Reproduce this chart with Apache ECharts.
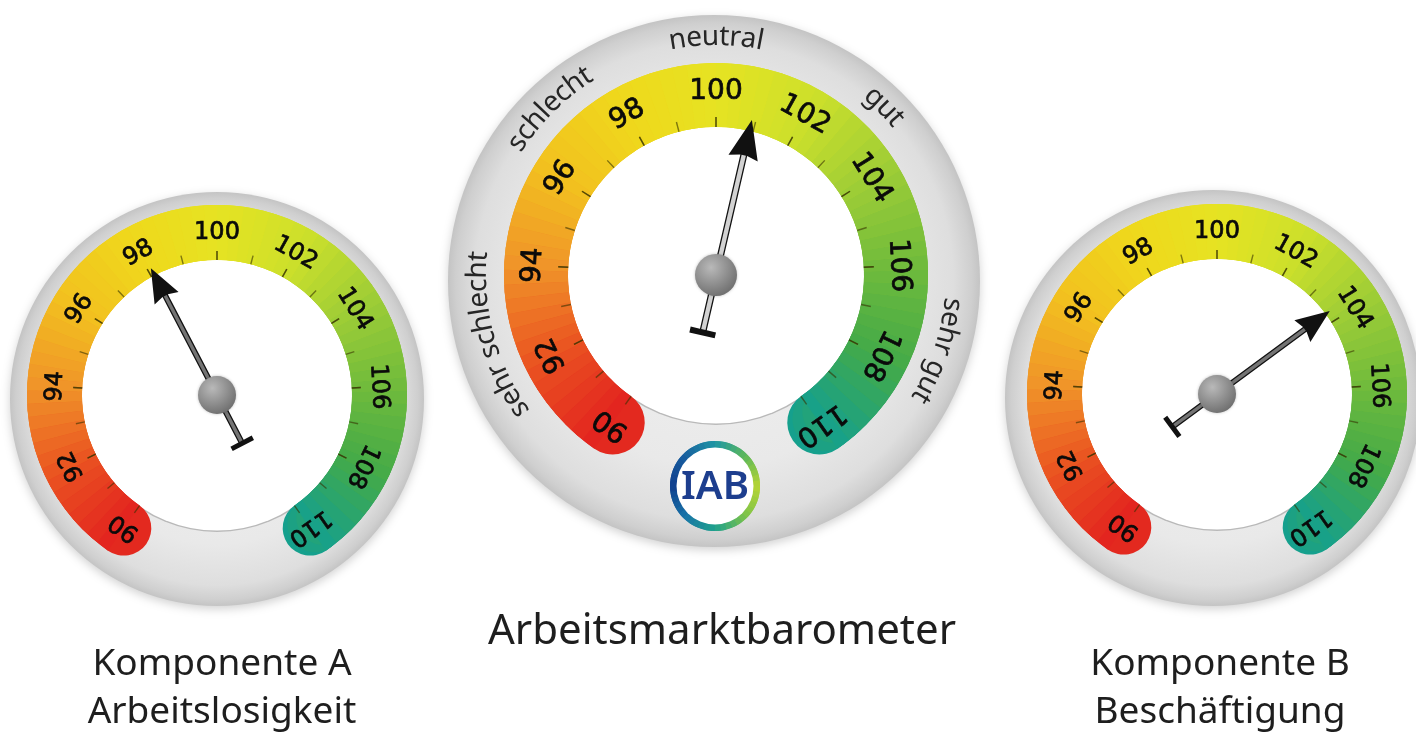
<!DOCTYPE html>
<html>
<head>
<meta charset="utf-8">
<title>Arbeitsmarktbarometer</title>
<script src="https://cdn.jsdelivr.net/npm/echarts@6/dist/echarts.min.js"></script>
<style>
  html, body { margin: 0; padding: 0; background: #ffffff; }
  #chart { width: 1416px; height: 735px; }
</style>
</head>
<body>
<div id="chart"></div>
<script>
// ---- values shown by the three barometers ----
const scaleMin = 90;
const scaleMax = 110;
const tickLabels = ['90', '92', '94', '96', '98', '100', '102', '104', '106', '108', '110'];
const gaugeValues = [98.1, 100.9, 103.7];            // Komponente A, Barometer, Komponente B
const captionLines = [
  ['Komponente A', 'Arbeitslosigkeit'],
  ['Arbeitsmarktbarometer'],
  ['Komponente B', 'Beschäftigung']
];
const ratingWords = ['sehr schlecht', 'schlecht', 'neutral', 'gut', 'sehr gut'];
const ratingAt = [92.75, 96.9, 100, 103.1, 107.5];   // scale position of each rating word
const logoText = 'IAB';

// ---- styling ----
const START_DEG = 235, END_DEG = -55;
const bandStops = [
  [90, '#e2221f'], [92, '#ea5321'], [94, '#f09429'], [96, '#f2c11f'], [98, '#efd81c'],
  [100, '#e6e322'], [102, '#cde02b'], [104, '#9ecd36'], [106, '#70bb3c'], [108, '#44aa48'], [110, '#15a08d']
];
const logoStops = [
  [0, '#1f96a4'], [0.125, '#5db85a'], [0.25, '#b6d434'], [0.375, '#7cc24a'], [0.5, '#1fa18d'],
  [0.625, '#1873a8'], [0.75, '#103f8d'], [0.875, '#185f9f'], [1, '#1f96a4']
];

const layouts = [
  { cx: 217, cy: 395, disc: [217, 399], discR: 207, bandR: 190, bandW: 55, tickLen: 9, labelR: 162, labelSize: 24,
    tip: 143, tail: 57, headLen: 31, headW: 27, shaftW: 6, barW: 24, barT: 5, hub: 38, shaftFill: '#747474' },
  { cx: 716, cy: 275, disc: [714, 281], discR: 266, bandR: 212, bandW: 64, tickLen: 10, labelR: 183, labelSize: 28,
    tip: 159, tail: 62, headLen: 36, headW: 30, shaftW: 7, barW: 26, barT: 6, hub: 42, shaftFill: '#d2d2d2' },
  { cx: 1217, cy: 394, disc: [1213, 398], discR: 208, bandR: 190, bandW: 55, tickLen: 9, labelR: 162, labelSize: 24,
    tip: 140, tail: 58, headLen: 31, headW: 27, shaftW: 6, barW: 24, barT: 5, hub: 38, shaftFill: '#747474' }
];
const captionPos = [
  [[222, 664], [222, 712]],
  [[722, 632]],
  [[1220, 664], [1220, 712]]
];
const logo = { center: [715, 486], r: 45, w: 7, textY: 488, font: '600 40px "Noto Sans"', color: '#1d3e8e' };
const ringWordFont = '28px "Noto Sans"';
const ringWordR = 238;
const captionFonts = ['37px "Noto Sans"', '42px "Noto Sans"', '37px "Noto Sans"'];

// ---- helpers ----
function hexRgb(h) {
  const n = parseInt(h.slice(1), 16);
  return [(n >> 16) & 255, (n >> 8) & 255, n & 255];
}
function colorAt(stops, t) {
  for (let i = 1; i < stops.length; i++) {
    if (t <= stops[i][0]) {
      const [t0, c0] = stops[i - 1], [t1, c1] = stops[i];
      const k = (t - t0) / (t1 - t0);
      const a = hexRgb(c0), b = hexRgb(c1);
      return 'rgb(' + a.map((v, j) => Math.round(v + (b[j] - v) * k)).join(',') + ')';
    }
  }
  return stops[stops.length - 1][1];
}
// many thin colour slices give a smooth sweep along the arc;
// "shift" moves the slice borders by half a slice for the underlay layer
function sweep(stops, n, shift) {
  const lo = stops[0][0], hi = stops[stops.length - 1][0];
  const list = [];
  const off = shift ? 0.5 : 0;
  for (let i = 1; i <= n; i++) {
    const f = Math.min(1, (i + off) / n);
    const mid = Math.min(1, (i - 0.5 + off) / n);
    list.push([f, colorAt(stops, lo + (hi - lo) * mid)]);
    if (f === 1) break;
  }
  return list;
}
const hidden = {
  splitLine: { show: false }, axisTick: { show: false }, axisLabel: { show: false },
  pointer: { show: false }, anchor: { show: false }, title: { show: false },
  detail: { show: false }, progress: { show: false }
};
function disc(center, r, fill, z, extra) {
  return Object.assign({}, hidden, {
    type: 'gauge', z, silent: true, center, radius: r, startAngle: 90, endAngle: -270,
    axisLine: { show: true, lineStyle: Object.assign({ width: r, color: [[1, fill]] }, extra || {}) },
    data: []
  });
}
function ring(center, r, w, colors, z, round, angles) {
  return Object.assign({}, hidden, {
    type: 'gauge', z, silent: true, center, radius: r,
    startAngle: angles[0], endAngle: angles[1],
    axisLine: { show: true, roundCap: round, lineStyle: { width: w, color: colors } },
    data: []
  });
}
function needleIcon(L, g) {
  const W = Math.max(g.headW, g.barW), c = W / 2, s = g.shaftW / 2;
  const hw = g.headW / 2, bw = g.barW / 2, h = g.headLen;
  const p = [
    [c, 0], [c + hw, h + 3], [c + s, h], [c + s, L - g.barT], [c + bw, L - g.barT], [c + bw, L],
    [c - bw, L], [c - bw, L - g.barT], [c - s, L - g.barT], [c - s, h], [c - hw, h + 3]
  ];
  return 'path://M' + p.map(q => q[0] + ' ' + q[1]).join(' L') + ' Z';
}
const scaleAxis = { startAngle: START_DEG, endAngle: END_DEG, min: scaleMin, max: scaleMax };
const bandFrac = bandStops.map(s => [(s[0] - scaleMin) / (scaleMax - scaleMin), s[1]]);

// ---- series ----
const series = [];
const graphics = [];
const measure = document.createElement('canvas').getContext('2d');

layouts.forEach((g, k) => {
  const center = [g.cx, g.cy];
  // bezel
  series.push(disc(g.disc, g.discR, {
    type: 'radial', x: 0.5, y: 0.5, r: 0.5,
    colorStops: [
      { offset: 0, color: '#f1f1f1' }, { offset: 0.7, color: '#e9e9e9' },
      { offset: 0.9, color: '#dedede' }, { offset: 0.97, color: '#cfcfcf' }, { offset: 1, color: '#c4c4c4' }
    ]
  }, 1, { shadowBlur: 10, shadowColor: 'rgba(0,0,0,0.18)', shadowOffsetY: 3 }));
  // white dial face with thin rim
  const faceR = g.bandR - g.bandW + 0.5;
  series.push(disc(center, faceR + 1.5, '#b9b9b9', 2));
  series.push(disc(center, faceR, '#ffffff', 2));
  // coloured scale band: rounded underlay, then smooth slices on top
  series.push(ring(center, g.bandR, g.bandW, sweep(bandFrac, 72, true), 3, true, [START_DEG, END_DEG]));
  series.push(Object.assign({}, hidden, scaleAxis, {
    type: 'gauge', z: 3, silent: true, center, radius: g.bandR, splitNumber: 10,
    axisLine: { show: true, roundCap: false, lineStyle: { width: g.bandW, color: sweep(bandFrac, 72, false) } },
    splitLine: { show: false, length: 0, distance: 0 },
    axisTick: { show: true, splitNumber: 2, length: g.tickLen, distance: -g.tickLen,
      lineStyle: { color: 'rgba(55,50,0,0.6)', width: 1.4 } },
    axisLabel: { show: true, distance: g.bandR - g.labelR, rotate: 'tangential', color: '#0a0a0a',
      fontSize: g.labelSize, fontFamily: 'DejaVu Sans',
      textBorderColor: '#0a0a0a', textBorderWidth: 0.7,
      formatter: v => tickLabels[Math.round((v - scaleMin) / 2)] },
    data: []
  }));
  // needle: dark outline with arrow head and tail bar
  series.push(Object.assign({}, hidden, scaleAxis, {
    type: 'gauge', z: 4, silent: true, center, radius: g.bandR,
    axisLine: { show: false },
    pointer: { show: true, icon: needleIcon(g.tip + g.tail, g), width: Math.max(g.headW, g.barW),
      length: g.tip + g.tail, offsetCenter: [0, g.tail], itemStyle: { color: '#111111' } },
    data: [{ value: gaugeValues[k] }]
  }));
  // needle: lighter shaft core and hub
  series.push(Object.assign({}, hidden, scaleAxis, {
    type: 'gauge', z: 5, silent: true, center, radius: g.bandR,
    axisLine: { show: false },
    pointer: { show: true, icon: 'rect', width: g.shaftW - 2.6,
      length: (g.tip - g.headLen) + (g.tail - g.barT), offsetCenter: [0, g.tail - g.barT],
      itemStyle: { color: g.shaftFill } },
    anchor: { show: true, showAbove: true, size: g.hub, icon: 'circle',
      itemStyle: {
        color: { type: 'radial', x: 0.38, y: 0.32, r: 0.8,
          colorStops: [{ offset: 0, color: '#b9b9b9' }, { offset: 1, color: '#666666' }] },
        shadowBlur: 3, shadowColor: 'rgba(0,0,0,0.25)'
      } },
    data: [{ value: gaugeValues[k] }]
  }));

  // captions below each dial
  captionLines[k].forEach((line, j) => {
    graphics.push({
      type: 'text', z: 20, silent: true, x: captionPos[k][j][0], y: captionPos[k][j][1],
      style: { text: line, font: captionFonts[k], fill: '#1e1e1e', align: 'center', verticalAlign: 'middle' }
    });
  });
});

// rating words set along the bezel of the main dial
const mainDial = layouts[1];
function clockDeg(v) {
  const math = START_DEG - (v - scaleMin) / (scaleMax - scaleMin) * (START_DEG - END_DEG);
  return 90 - math;
}
ratingWords.forEach((word, i) => {
  measure.font = ringWordFont;
  const total = measure.measureText(word).width;
  let pos = -total / 2;
  const base = clockDeg(ratingAt[i]) * Math.PI / 180;
  for (const ch of word) {
    const w = measure.measureText(ch).width;
    const a = base + (pos + w / 2) / ringWordR;
    graphics.push({
      type: 'text', z: 20, silent: true,
      x: mainDial.cx + ringWordR * Math.sin(a), y: mainDial.cy - ringWordR * Math.cos(a), rotation: -a,
      style: { text: ch, font: ringWordFont, fill: '#262626', align: 'center', verticalAlign: 'middle' }
    });
    pos += w;
  }
});

// logo ring on the main dial
series.push(ring(logo.center, logo.r, logo.w, sweep(logoStops, 48, true), 6, false, [90, -270]));
series.push(ring(logo.center, logo.r, logo.w, sweep(logoStops, 48, false), 6, false, [90, -270]));
series.push(disc(logo.center, logo.r - logo.w + 0.5, '#ffffff', 6));
graphics.push({
  type: 'text', z: 20, silent: true, x: logo.center[0], y: logo.textY,
  style: { text: logoText, font: logo.font, fill: logo.color, align: 'center', verticalAlign: 'middle' }
});

const chart = echarts.init(document.getElementById('chart'), null, { renderer: 'canvas' });
chart.setOption({
  animation: false,
  backgroundColor: '#ffffff',
  series,
  graphic: { elements: graphics }
});
</script>
</body>
</html>
